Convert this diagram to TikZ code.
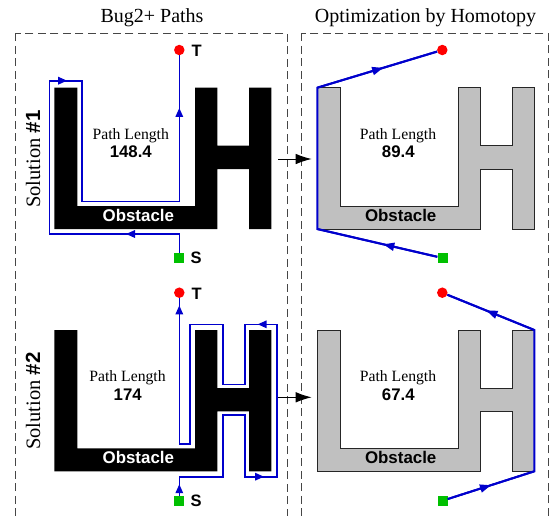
\documentclass[tikz,border=0pt]{standalone}
\usepackage{fontspec}
\setmainfont{Liberation Serif}
\setsansfont{Liberation Sans}
\usetikzlibrary{arrows.meta,decorations.markings}
\definecolor{pathblue}{RGB}{0,0,204}
\definecolor{obgrey}{RGB}{192,192,192}
\definecolor{boxgrey}{RGB}{70,70,70}
\definecolor{startgreen}{RGB}{0,192,0}
\newcommand\obstshape[1]{\path[#1] (54.3,87.7) -- (77.3,87.7) -- (77.3,206) -- (195,206) -- (195,87.7) -- (217.3,87.7) -- (217.3,145.7) -- (249,145.7) -- (249,87.7) -- (271.3,87.7) -- (271.3,229) -- (249,229) -- (249,169) -- (217.3,169) -- (217.3,229) -- (54.3,229) -- cycle;}
\tikzset{
  panel/.style={draw=boxgrey, line width=0.9pt, dash pattern=on 8pt off 4.5pt},
  blackobst/.style={fill=black},
  greyobst/.style={fill=obgrey, draw=black!85, line width=0.9pt},
  bugpath/.style={draw=pathblue, line width=1.6pt},
  optpath/.style={draw=pathblue, line width=2pt},
  bugmark/.style={postaction={decorate, decoration={markings, mark=at position #1 with {\arrow{Triangle[length=9pt,width=7.5pt]}}}}},
  optmark/.style={postaction={decorate, decoration={markings, mark=at position #1 with {\arrow{Triangle[length=11pt,width=8pt]}}}}},
  goal/.style={circle, fill=red, inner sep=0pt, minimum size=10.5pt},
  startsq/.style={rectangle, fill=startgreen, inner sep=0pt, minimum size=10pt},
  ptlabel/.style={anchor=base west, inner sep=0pt, font=\sffamily\bfseries\fontsize{16.5}{19}\selectfont},
  ttl/.style={anchor=base, inner sep=0pt, font=\fontsize{20}{24}\selectfont},
  pl/.style={anchor=base, inner sep=0pt, font=\fontsize{15.7}{18}\selectfont},
  pnum/.style={anchor=base, inner sep=0pt, font=\sffamily\bfseries\fontsize{16.8}{20}\selectfont},
  obtext/.style={anchor=base, inner sep=0pt, font=\sffamily\bfseries\fontsize{16.9}{20}\selectfont},
  sol/.style={rotate=90, inner sep=0pt, font=\fontsize{20.5}{24}\selectfont},
  flow/.style={draw=black, line width=1pt, -{Latex[length=16pt,width=10.5pt]}}
}
\begin{document}
\begin{tikzpicture}[x=1pt,y=-1pt]
\clip (0,0) rectangle (549,515);
% panels
\draw[panel] (15,33.3) rectangle (287.5,545);
\draw[panel] (301.7,33.3) rectangle (548.3,545);
\node[ttl] (t1) at (152,22) {Bug2+ Paths};
\node[ttl] (t2) at (425.5,22) {Optimization by Homotopy};
% obstacles
\obstshape{blackobst}
\begin{scope}[shift={(0,242.3)}]\obstshape{blackobst}\end{scope}
\begin{scope}[shift={(263,0)}]\obstshape{greyobst}\end{scope}
\begin{scope}[shift={(263,242.3)}]\obstshape{greyobst}\end{scope}
% labels
\node[sol] (sol1) at (33,159) {Solution {\sffamily\bfseries\#1}};
\node[sol] (sol2) at (33,401) {Solution {\sffamily\bfseries\#2}};
\node[pl] (pl1) at (130.8,139) {Path Length};
\node[pnum] (n1) at (130.8,157.7) {148.4};
\node[obtext, text=white] (o1) at (138.3,221.5) {Obstacle};
\node[pl] (pl2) at (127.5,381.3) {Path Length};
\node[pnum] (n2) at (127.7,400) {174};
\node[obtext, text=white] (o2) at (138.3,463.8) {Obstacle};
\node[pl] (pl3) at (398,139) {Path Length};
\node[pnum] (n3) at (398.3,157.7) {89.4};
\node[obtext] (o3) at (400.7,221.5) {Obstacle};
\node[pl] (pl4) at (398,381.3) {Path Length};
\node[pnum] (n4) at (398.3,400) {67.4};
\node[obtext] (o4) at (400.7,463.8) {Obstacle};
% start / goal
\node[startsq] (S1) at (179.3,258) {};
\node[goal] (T1) at (179.3,50) {};
\node[startsq] (S2) at (179.3,500.7) {};
\node[goal] (T2) at (179.3,292.7) {};
\node[startsq] (S3) at (442.5,258) {};
\node[goal] (T3) at (442.3,50) {};
\node[startsq] (S4) at (442.5,500.7) {};
\node[goal] (T4) at (442.3,292.7) {};
\node[ptlabel] (lT1) at (191.5,56.3) {T};
\node[ptlabel] (lS1) at (190.5,263.3) {S};
\node[ptlabel] (lT2) at (191.5,299) {T};
\node[ptlabel] (lS2) at (190.5,506) {S};
% path 1 (Bug2+)
\coordinate (a1) at (179.3,234);
\coordinate (a2) at (49.3,234);
\coordinate (a3) at (49.3,80.7);
\coordinate (a4) at (81.7,80.7);
\coordinate (a5) at (81.7,201.3);
\coordinate (a6) at (179.3,201.3);
\draw[bugpath] (S1) -- (a1) -- (a2) -- (a3) -- (a4) -- (a5) -- (a6) -- (T1);
\draw[bugpath, bugmark=0.41] (a1) -- (a2);
\draw[bugpath, bugmark=0.55] (a3) -- (a4);
\draw[bugpath, bugmark=0.64] (a6) -- (T1);
% path 2 (Bug2+)
\coordinate (b1) at (179.3,476.7);
\coordinate (b2) at (222.7,476.7);
\coordinate (b3) at (222.7,415);
\coordinate (b4) at (245,415);
\coordinate (b5) at (245,476.7);
\coordinate (b6) at (276.7,476.7);
\coordinate (b7) at (276.7,324.3);
\coordinate (b8) at (245,324.3);
\coordinate (b9) at (245,384.3);
\coordinate (b10) at (222.7,384.3);
\coordinate (b11) at (222.7,324.3);
\coordinate (b12) at (190,324.3);
\coordinate (b13) at (190,444);
\coordinate (b14) at (179.3,444);
\draw[bugpath] (S2) -- (b1) -- (b2) -- (b3) -- (b4) -- (b5) -- (b6) -- (b7) -- (b8) -- (b9) -- (b10) -- (b11) -- (b12) -- (b13) -- (b14) -- (T2);
\draw[bugpath, bugmark=0.6] (S2) -- (b1);
\draw[bugpath, bugmark=0.6] (b5) -- (b6);
\draw[bugpath, bugmark=0.6] (b7) -- (b8);
\draw[bugpath, bugmark=0.95] (b14) -- (T2);
% optimized paths
\coordinate (c1) at (317.3,229);
\coordinate (c2) at (317.3,87.7);
\draw[optpath] (S3) -- (c1) -- (c2) -- (T3);
\draw[optpath, optmark=0.45] (S3) -- (c1);
\draw[optpath, optmark=0.55] (c2) -- (T3);
\coordinate (d1) at (534.3,471.3);
\coordinate (d2) at (534.3,330);
\draw[optpath] (S4) -- (d1) -- (d2) -- (T4);
\draw[optpath, optmark=0.5] (S4) -- (d1);
\draw[optpath, optmark=0.55] (d2) -- (T4);
% flow arrows
\coordinate (e1) at (278,159);
\coordinate (f1) at (311.7,159);
\coordinate (e2) at (278,397.3);
\coordinate (f2) at (311.7,397.3);
\draw[flow] (e1) -- (f1);
\draw[flow] (e2) -- (f2);
\end{tikzpicture}
\end{document}
